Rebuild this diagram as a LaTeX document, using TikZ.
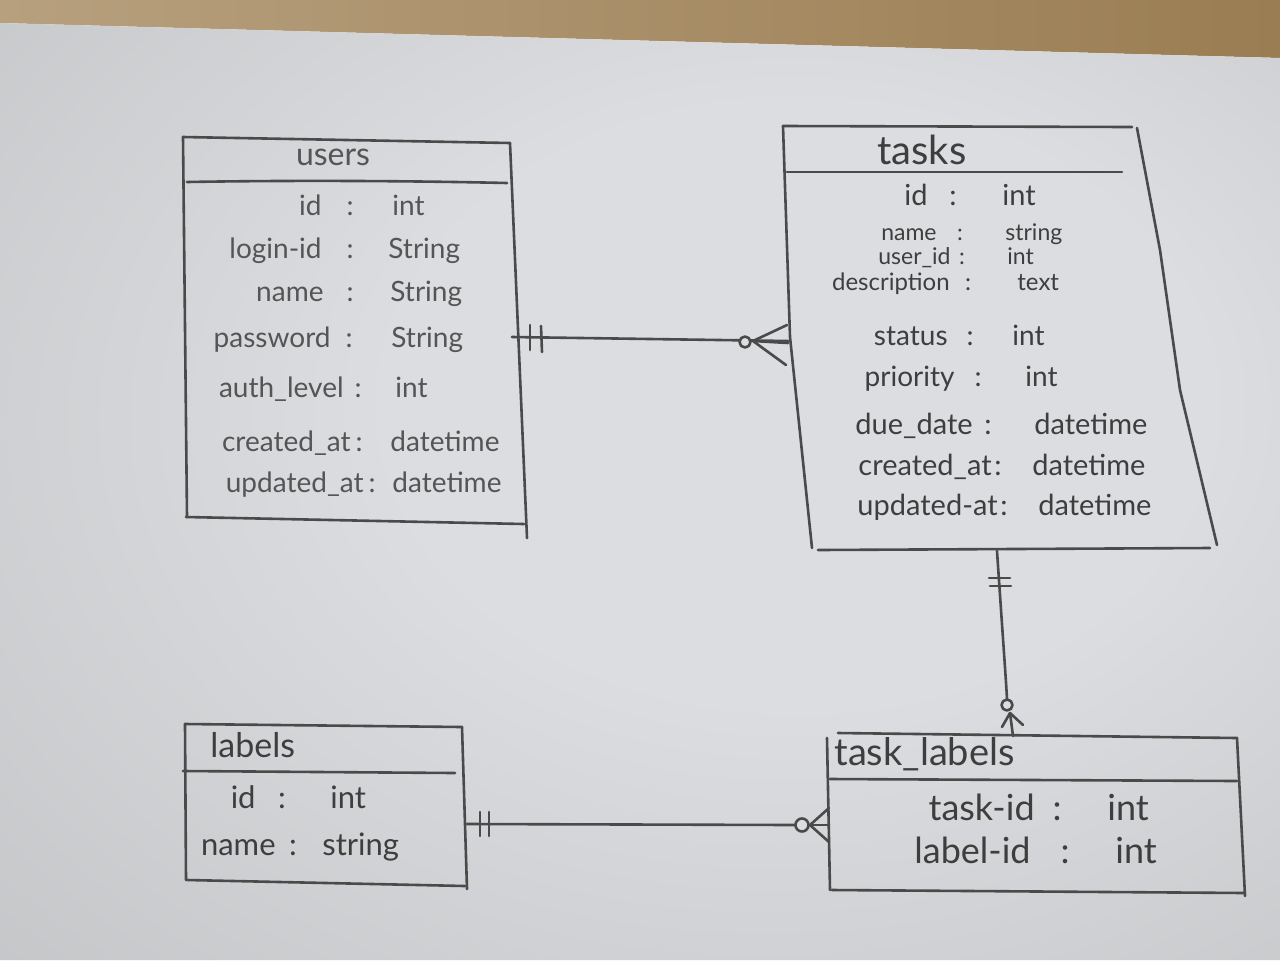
\documentclass[tikz,border=0pt]{standalone}
\usepackage{fontspec}
\setmainfont{Lato}
\usetikzlibrary{calc}
\definecolor{pc1}{HTML}{DCDDE0}
\definecolor{pc2}{HTML}{C2C3C5}
\definecolor{pc3}{HTML}{8A8A8A}
\definecolor{woodL}{HTML}{B7A07E}
\definecolor{woodR}{HTML}{9A7D52}
\definecolor{ink}{HTML}{4A4A4A}
\definecolor{inktxt}{HTML}{3E3E3E}
\definecolor{inkpale}{HTML}{555555}
\pgfdeclareradialshading{papershade}{\pgfpoint{8bp}{6bp}}{color(0bp)=(pc1); color(16bp)=(pc1); color(44bp)=(pc2); color(72bp)=(pc3)}
\newcommand\myfs[1]{\fontsize{#1}{#1}\selectfont}
\newcommand\fld[8]{%
  \node[txt,anchor=mid east,font=\myfs{#8}] (#1n) at (#3,#2) {#6};
  \node[txt,anchor=mid,font=\myfs{#8}] (#1c) at (#4,#2) {:};
  \node[txt,anchor=mid west,font=\myfs{#8}] (#1t) at (#5,#2) {#7};}
\begin{document}
\begin{tikzpicture}[x=0.5pt,y=-0.5pt,
  pen/.style={draw=ink,line width=1.3pt,line cap=round,line join=round},
  txt/.style={inner sep=0pt,text=inktxt},
  ttl/.style={inner sep=0pt,text=inktxt}]
\useasboundingbox (0,0) rectangle (1280,960);
% background
\shade[left color=woodL,right color=woodR] (0,0) -- (1280,0) -- (1280,58) -- (0,23) -- cycle;
\shade[shading=papershade] (0,23) -- (1280,58) -- (1280,960) -- (0,960) -- cycle;

% ---------- users ----------
\draw[pen] (183,137) -- (510,143);
\draw[pen] (183,137) -- (187,517);
\draw[pen] (510,143) -- (527,538);
\draw[pen] (186,517) -- (524,524);
\draw[pen] (187,182) .. controls (300,180) and (420,181) .. (507,183);
\node[ttl,font=\myfs{16},text=inkpale] (usersT) at (333,157) {users};
\begin{scope}[txt/.append style={text=inkpale}]
\fld{ua}{210}{322}{350}{392}{id}{int}{14}
\fld{ub}{253}{322}{350}{388}{login-id}{String}{14}
\fld{uc}{296}{324}{350}{390}{name}{String}{14}
\fld{ud}{342}{331}{349}{391}{password}{String}{14}
\fld{ue}{392}{344}{358}{395}{auth\_level}{int}{14}
\fld{uf}{446}{351}{359}{390}{created\_at}{datetime}{14}
\fld{ug}{487}{364}{372}{392}{updated\_at}{datetime}{14}
\end{scope}

% ---------- tasks ----------
\draw[pen] (783,126) -- (1132,127);
\draw[pen] (783,126) -- (790,337) -- (812,548);
\draw[pen] (1137,128) -- (1160,250) -- (1180,390) -- (1217,545);
\draw[pen] (818,550) -- (1210,548);
\draw[pen] (787,172) -- (1122,172);
\node[ttl,font=\myfs{20}] (tasksT) at (922,150) {tasks};
\fld{ta}{200}{928}{953}{1002}{id}{int}{14.5}
\fld{tb}{235}{937}{960}{1005}{name}{string}{11.5}
\fld{tc}{259}{951}{962}{1007}{user\_id}{int}{11.5}
\fld{td}{285}{950}{968}{1017}{description}{text}{12}
\fld{te}{340}{948}{970}{1012}{status}{int}{14}
\fld{tf}{381}{955}{978}{1025}{priority}{int}{14}
\fld{tg}{429}{973}{988}{1034}{due\_date}{datetime}{14.5}
\fld{th}{470}{992}{998}{1032}{created\_at}{datetime}{14.5}
\fld{ti}{510}{998}{1004}{1038}{updated-at}{datetime}{14.5}

% ---------- labels ----------
\draw[pen] (185,724) -- (462,727);
\draw[pen] (185,724) -- (186,880);
\draw[pen] (462,727) -- (467,889);
\draw[pen] (187,880) -- (465,886);
\draw[pen] (183,771) -- (455,773);
\node[ttl,anchor=mid west,font=\myfs{17}] (labelsT) at (210,752) {labels};
\fld{la}{803}{256}{282}{330}{id}{int}{15.5}
\fld{lb}{850}{276}{293}{322}{name}{string}{15.5}

% ---------- task_labels ----------
\draw[pen] (838,733) -- (1237,738);
\draw[pen] (827,738) -- (830,890);
\draw[pen] (1237,738) -- (1245,896);
\draw[pen] (832,890) -- (1245,893);
\draw[pen] (830,779) -- (1237,781);
\node[ttl,anchor=mid west,font=\myfs{19}] (tlT) at (834,760) {task\_labels};
\fld{tla}{815}{1035}{1057}{1107}{task-id}{int}{18}
\fld{tlb}{858}{1031}{1065}{1115}{label-id}{int}{18}

% ---------- connectors ----------
\coordinate (uE) at (512,337);
\coordinate (tW) at (788,341);
\draw[pen] (uE) -- (tW);
\draw[pen] ($(uE)+(18,-12)$) -- ++(0,25);
\draw[pen] ($(uE)+(29,-11)$) -- ++(1,26);
\draw[pen,fill=pc1] ($(tW)+(-43,1)$) circle[radius=5.5];
\draw[pen] ($(tW)+(-35,0)$) -- ($(tW)+(-1,-16)$);
\draw[pen] ($(tW)+(-35,0)$) -- ($(tW)+(0,2)$);
\draw[pen] ($(tW)+(-35,0)$) -- ($(tW)+(-2,24)$);

\coordinate (tS) at (997,551);
\coordinate (tlN) at (1013,736);
\draw[pen] (tS) .. controls (1003,640) and (1006,680) .. ($(tlN)+(-6,-37)$);
\draw[pen] ($(tlN)+(-3,-23)$) -- (tlN);
\draw[pen] ($(tS)+(-8,27)$) -- ++(21,0);
\draw[pen] ($(tS)+(-7,35)$) -- ++(21,0);
\draw[pen,fill=pc1] ($(tlN)+(-6,-31)$) circle[radius=5.5];
\draw[pen] ($(tlN)+(-3,-23)$) -- ($(tlN)+(-11,-9)$);
\draw[pen] ($(tlN)+(-3,-23)$) -- ($(tlN)+(10,-11)$);

\coordinate (lE) at (467,824);
\coordinate (tlW) at (829,825);
\draw[pen] (lE) -- ($(tlW)+(-34,0)$);
\draw[pen] ($(lE)+(13,-12)$) -- ++(0,24);
\draw[pen] ($(lE)+(22,-12)$) -- ++(0,24);
\draw[pen,fill=pc1] ($(tlW)+(-27,0)$) circle[radius=6.5];
\draw[pen] ($(tlW)+(-19,0)$) -- ($(tlW)+(0,-17)$);
\draw[pen] ($(tlW)+(-19,0)$) -- (tlW);
\draw[pen] ($(tlW)+(-19,0)$) -- ($(tlW)+(0,17)$);
\end{tikzpicture}
\end{document}
